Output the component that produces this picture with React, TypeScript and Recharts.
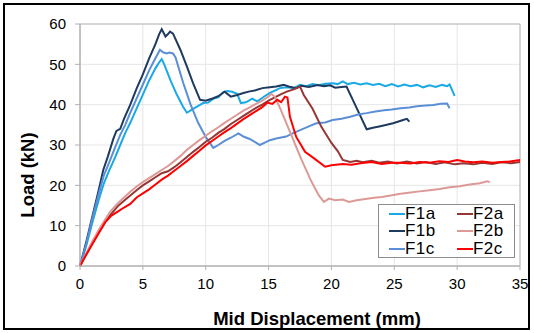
import {
  LineChart,
  Line,
  XAxis,
  YAxis,
  CartesianGrid,
  Legend,
  ReferenceArea,
} from "recharts";

type Pt = [number, number];

// displacement (mm), load (kN)
const F1a: Pt[] = [
  [0, 0], [0.5, 5], [1, 11], [1.5, 16.5], [1.9, 20.5], [2.3, 23.5], [2.8, 27], [3.2, 30],
  [3.6, 33], [4, 35.5], [4.5, 39], [5, 42.5], [5.5, 46], [6, 49], [6.3, 50.5], [6.5, 51.3],
  [6.7, 50], [7.2, 46], [7.7, 42.5], [8.2, 39.5], [8.5, 38], [8.8, 38.6], [9.2, 39.3],
  [9.8, 40.4], [10.2, 40.5], [10.6, 41.5], [11, 41.8], [11.4, 43.1], [11.7, 43.4], [12.1, 43.2],
  [12.5, 42.7], [12.8, 40.4], [13.2, 40.6], [13.7, 41.5], [14.1, 40.8], [14.6, 41.9],
  [15.1, 42.9], [15.5, 43.5], [15.9, 44.1], [16.5, 44.3], [17, 44.1], [17.5, 44.9], [18, 44.6],
  [18.5, 45.1], [19, 44.8], [19.5, 45.2], [20.1, 45.3], [20.5, 45.1], [20.9, 45.8], [21.3, 45.1],
  [21.8, 45.4], [22.3, 45.0], [22.8, 45.3], [23.3, 44.9], [23.8, 45.2], [24.3, 44.6],
  [24.8, 45.1], [25.3, 44.5], [25.8, 45.0], [26.3, 44.6], [26.8, 44.9], [27.3, 44.3],
  [27.8, 44.8], [28.3, 44.4], [28.8, 44.9], [29.2, 44.6], [29.4, 45], [29.6, 43.6], [29.8, 42.2],
];

const F1b: Pt[] = [
  [0, 0], [0.5, 6], [1, 12.5], [1.5, 19], [1.85, 23.8], [2.2, 27], [2.65, 31.5], [2.9, 33.5],
  [3.2, 34], [3.5, 36.5], [4, 40], [4.5, 44], [5, 47.5], [5.5, 51.5], [6, 55], [6.3, 57.5],
  [6.5, 58.7], [6.7, 57.5], [6.8, 56.9], [7, 57.5], [7.16, 58.1], [7.4, 57.6], [8, 53.5],
  [8.5, 49.5], [9, 45.3], [9.55, 41.2], [10, 41], [10.6, 41.6], [11, 42.1], [11.5, 43.2],
  [12, 42], [12.5, 42.4], [13, 42.9], [13.5, 43.3], [13.9, 43.5], [14.5, 44.1], [15.1, 44.3],
  [15.6, 44.5], [16.2, 44.9], [16.6, 44.5], [17.2, 44.1], [17.6, 44.7], [18.2, 44.4],
  [18.9, 44.9], [19.4, 44.6], [19.9, 44.8], [20.3, 44.2], [20.8, 44.4], [21.2, 44.5],
  [22, 39.2], [22.8, 33.9], [23.3, 34.3], [23.8, 34.6], [24.4, 35], [24.9, 35.4], [25.4, 35.9],
  [25.7, 36.2], [26, 36.5], [26.2, 35.8],
];

const F1c: Pt[] = [
  [0, 0], [0.5, 5.5], [1, 12], [1.5, 18], [1.9, 22.5], [2.3, 25.5], [2.8, 29.5], [3.2, 32.5],
  [3.6, 35], [4, 38], [4.5, 41.5], [5, 45], [5.5, 48.5], [6, 51.5], [6.36, 53.6], [6.6, 53],
  [6.9, 52.7], [7.1, 52.9], [7.4, 52.7], [7.6, 51.7], [8.2, 45.5], [8.8, 40], [9.4, 35.5],
  [10, 32], [10.6, 29.3], [11, 30], [11.5, 31], [12, 31.8], [12.6, 32.9], [13, 32.1],
  [13.5, 31.5], [14, 30.6], [14.3, 30], [14.7, 30.6], [15.1, 31.2], [15.6, 31.6], [16.4, 32.1],
  [17, 33], [17.6, 33.8], [18.2, 34.6], [18.8, 35.4], [19.5, 35.6], [20.1, 36.2], [20.8, 36.5],
  [21.5, 37], [22.2, 37.6], [22.8, 37.9], [23.5, 38.3], [24.2, 38.6], [24.8, 38.8],
  [25.5, 39.1], [26.2, 39.3], [26.8, 39.6], [27.5, 39.8], [28.1, 39.9], [28.7, 40.2],
  [29.2, 40.3], [29.4, 39.1],
];

const F2a: Pt[] = [
  [0, 0], [0.5, 3], [1, 5.8], [1.5, 8.5], [2, 11], [2.5, 13], [3, 14.8], [3.5, 16.2], [4, 17.5],
  [4.5, 18.8], [5, 20], [5.5, 21], [6, 22], [6.5, 23], [7, 23.5], [7.5, 24.5], [8, 25.7],
  [8.5, 27], [9, 28.3], [9.5, 29.5], [10, 30.8], [10.5, 31.8], [11, 33], [11.5, 34], [12, 35.2],
  [12.5, 36.2], [13, 37.2], [13.5, 38.2], [14, 39.2], [14.5, 40], [15, 41], [15.5, 41.8],
  [16, 42.6], [16.5, 43.3], [17, 43.8], [17.5, 44.5], [17.8, 42.4], [18.5, 39], [19.2, 34.5],
  [20, 30.5], [20.5, 28.5], [20.9, 26.3], [21.5, 25.8], [22, 26.1], [22.5, 25.7], [23.2, 26.1],
  [23.8, 25.6], [24.5, 25.9], [25.2, 25.4], [26, 25.9], [26.8, 25.4], [27.5, 25.8], [28.3, 25.3],
  [29, 25.7], [29.8, 25.2], [30.5, 25.5], [31.3, 25.2], [32, 25.6], [32.8, 25.3], [33.5, 25.7],
  [34.3, 25.5], [35, 25.8],
];

const F2b: Pt[] = [
  [0, 0], [0.5, 3.2], [1, 6.2], [1.5, 9], [2, 11.5], [2.4, 13.5], [3, 15.5], [3.5, 17],
  [4, 18.4], [4.5, 19.7], [5, 20.8], [5.5, 21.8], [6, 22.8], [6.5, 23.8], [7, 24.8], [7.5, 26],
  [8, 27.3], [8.5, 28.8], [9, 30], [9.5, 31.2], [10, 32.3], [10.5, 33.4], [11, 34.4],
  [11.5, 35.5], [12, 36.5], [12.5, 37.5], [13, 38.5], [13.5, 39.3], [14, 40.2], [14.5, 41],
  [15, 42], [15.2, 42.7], [15.5, 42], [16, 38.5], [16.8, 32.5], [17.6, 26.5], [18.4, 21],
  [19, 17.5], [19.4, 15.9], [19.8, 16.7], [20.3, 16.3], [20.9, 16.5], [21.4, 15.9], [22, 16.3],
  [22.7, 16.6], [23.4, 16.9], [24, 17.1], [24.7, 17.5], [25.5, 17.9], [26.3, 18.2], [27, 18.5],
  [27.8, 18.8], [28.6, 19.1], [29.4, 19.5], [30.2, 19.8], [31, 20.2], [31.8, 20.5], [32.4, 21],
  [32.6, 20.8],
];

const F2c: Pt[] = [
  [0, 0], [0.5, 2.8], [1, 5.5], [1.5, 8.2], [2, 10.8], [2.5, 12.5], [3, 13.5], [3.5, 14.5],
  [4, 15.4], [4.5, 17], [5, 18], [5.5, 19], [6, 20.2], [6.5, 21.4], [7, 22.4], [7.5, 23.6],
  [8, 24.8], [8.5, 26], [9, 27.3], [9.5, 28.6], [10, 29.9], [10.5, 31], [11, 32.1], [11.5, 33.2],
  [12, 34.2], [12.5, 35.3], [13, 36.4], [13.5, 37.4], [14, 38.4], [14.5, 39.4], [14.9, 40.5],
  [15.3, 40.2], [15.7, 41.2], [16, 40.6], [16.3, 42], [16.5, 41.8], [16.7, 37], [17.2, 32],
  [17.9, 28.3], [18.7, 26.5], [19.5, 24.6], [20, 25], [20.9, 25.3], [21.6, 25.1], [22.3, 25.5],
  [23.2, 25.8], [24, 25.3], [24.8, 25.6], [25.5, 25.6], [26.3, 25.4], [27, 25.8], [27.8, 25.6],
  [28.6, 26], [29.3, 25.8], [30, 26.3], [30.6, 25.9], [31.3, 25.7], [32, 25.9], [32.8, 25.6],
  [33.5, 25.8], [34.2, 25.9], [35, 26.3],
];

const X_TICKS = [0, 5, 10, 15, 20, 25, 30, 35];
const Y_TICKS = [0, 10, 20, 30, 40, 50, 60];

const SERIES = [
  { name: "F1a", color: "#19a9e6", points: F1a },
  { name: "F1b", color: "#1f3a5f", points: F1b },
  { name: "F1c", color: "#5a8fd6", points: F1c },
  { name: "F2a", color: "#953735", points: F2a },
  { name: "F2b", color: "#dc9a96", points: F2b },
  { name: "F2c", color: "#ff0000", points: F2c },
];

const FONT = '"Liberation Sans", Arial, sans-serif';

const toRows = (pts: Pt[]) => pts.map(([x, y]) => ({ x, y }));

function LegendBox() {
  const cols = [SERIES.slice(0, 3), SERIES.slice(3)];
  return (
    <div
      style={{
        width: 137,
        height: 54,
        boxSizing: "border-box",
        border: "1px solid #8c8c8c",
        background: "#fff",
        position: "relative",
        fontFamily: FONT,
        fontSize: 17,
        letterSpacing: 0.4,
        color: "#000",
      }}
    >
      {cols.map((col, ci) =>
        col.map((s, ri) => (
          <div
            key={s.name}
            style={{
              position: "absolute",
              left: ci ? 78 : 10,
              top: ri * 17.5,
              height: 17,
              display: "flex",
              alignItems: "center",
            }}
          >
            <span style={{ display: "inline-block", width: 16, height: 2, background: s.color }} />
            <span>{s.name}</span>
          </div>
        ))
      )}
    </div>
  );
}

export default function App() {
  return (
    <div style={{ position: "absolute", left: 0, top: 0, width: 534, height: 333, background: "#fff" }}>
      <LineChart
        width={534}
        height={333}
        margin={{ top: 24, right: 14, bottom: 37, left: 30 }}
        style={{ fontFamily: FONT }}
      >
        <CartesianGrid stroke="#e6e6e6" />
        <XAxis
          type="number"
          dataKey="x"
          domain={[0, 35]}
          ticks={X_TICKS}
          height={30}
          stroke="#b0b0b0"
          tickSize={4}
          tickMargin={8}
          tick={{ fill: "#000", fontSize: 15 }}
          label={() => (
            <text x={317} y={318} textAnchor="middle" dominantBaseline="central" fontSize={18.5} fontWeight="bold" fill="#000">
              Mid Displacement (mm)
            </text>
          )}
        />
        <YAxis
          type="number"
          domain={[0, 60]}
          ticks={Y_TICKS}
          width={50}
          stroke="#b0b0b0"
          tickSize={5}
          tickMargin={9}
          tick={{ fill: "#000", fontSize: 15 }}
          label={() => (
            <text x={27} y={175} transform="rotate(-90, 27, 175)" textAnchor="middle" dominantBaseline="central" fontSize={18.5} fontWeight="bold" fill="#000">
              Load (kN)
            </text>
          )}
        />
        <ReferenceArea x1={0} x2={35} y1={0} y2={60} fill="none" stroke="#b8b8b8" strokeWidth={1} />
        {SERIES.map((s) => (
          <Line
            key={s.name}
            data={toRows(s.points)}
            dataKey="y"
            name={s.name}
            type="linear"
            stroke={s.color}
            strokeWidth={2}
            dot={false}
            activeDot={false}
            isAnimationActive={false}
          />
        ))}
        <Legend
          layout="horizontal"
          verticalAlign="middle"
          align="center"
          content={() => <LegendBox />}
          wrapperStyle={{ left: 378, top: 204, width: 137, height: 54 }}
        />
      </LineChart>
      <div
        style={{
          position: "absolute",
          left: 3,
          top: 3,
          width: 527,
          height: 327,
          boxSizing: "border-box",
          border: "2px solid #000",
          pointerEvents: "none",
        }}
      />
    </div>
  );
}
